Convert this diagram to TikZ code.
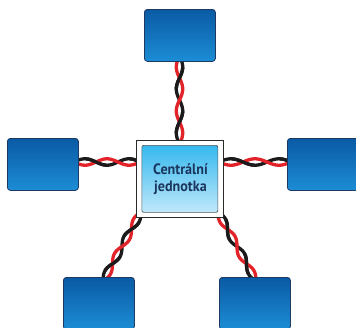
\documentclass[tikz,border=0pt]{standalone}
\usepackage{fontspec}
\newfontfamily\labelfont[FakeStretch=0.94]{PT Sans}
\usetikzlibrary{calc}

\definecolor{unittop}{HTML}{0A5AA4}
\definecolor{unitbot}{HTML}{1C8DD5}
\definecolor{unitedge}{HTML}{1E3A62}
\definecolor{hubtop}{HTML}{36B9EE}
\definecolor{hubbot}{HTML}{C0E8FB}
\definecolor{hubedge}{HTML}{2A2A2A}
\definecolor{hubtext}{HTML}{1B365E}
\definecolor{wirer}{HTML}{E2242A}
\definecolor{wirek}{HTML}{1C1A1A}

% twisted pair parameters (pt)
\def\twamp{3.2}
\def\twhalf{21}

\tikzset{
  unitbox/.style={draw=unitedge, line width=0.8pt, rounded corners=3pt,
    top color=unittop, bottom color=unitbot, shading angle=0,
    minimum width=71pt, minimum height=52pt, inner sep=0pt, anchor=north west},
  hubframe/.style={draw=hubedge, line width=1.3pt, fill=white,
    minimum width=87pt, minimum height=77pt, inner sep=0pt, anchor=north west},
  hubpanel/.style={draw=hubedge!80, line width=0.7pt, rounded corners=2pt,
    top color=hubtop, bottom color=hubbot,
    minimum width=76pt, minimum height=67pt, inner sep=0pt, anchor=north west},
  hublabel/.style={text=hubtext, align=center, inner sep=0pt,
    font=\labelfont\bfseries\fontsize{15}{16.5}\selectfont},
  wireblack/.style={draw=wirek, line width=3.3pt},
  wirered/.style={draw=wirer, line width=3.3pt},
}

% a twisted red/black pair from one named point to another
\newcommand{\twistpair}[2]{%
  \pgfmathanglebetweenpoints{\pgfpointanchor{#1}{center}}{\pgfpointanchor{#2}{center}}%
  \edef\twang{\pgfmathresult}%
  \pgfpointdiff{\pgfpointanchor{#1}{center}}{\pgfpointanchor{#2}{center}}%
  \pgfgetlastxy{\twdx}{\twdy}%
  \pgfmathsetmacro{\twlen}{veclen(\twdx,\twdy)}%
  \pgfmathtruncatemacro{\twn}{max(1,round(\twlen/\twhalf))}%
  \pgfmathsetmacro{\twh}{\twlen/\twn}%
  \begin{scope}[shift={(#1)}, rotate=\twang, x=1pt, y=1pt]
    \draw[wireblack] plot[domain=0:\twlen, samples=80, smooth]
      (\x, {\twamp*sin(180*\x/\twh)});
    \draw[wirered] plot[domain=0:\twlen, samples=80, smooth]
      (\x, {-\twamp*sin(180*\x/\twh)});
    \foreach \k in {1,3,...,\twn} {
      \pgfmathsetmacro{\ka}{(\k-0.5)*\twh}
      \pgfmathsetmacro{\kb}{min((\k+0.5)*\twh,\twlen)}
      \draw[wireblack] plot[domain=\ka:\kb, samples=24, smooth]
        (\x, {\twamp*sin(180*\x/\twh)});
    }
  \end{scope}
}

\begin{document}
\begin{tikzpicture}[x=1pt, y=-1pt]
  \useasboundingbox (0,0) rectangle (356,327);

  % cable end points
  \coordinate (ta) at (179.5,56);
  \coordinate (tb) at (179.5,144);
  \coordinate (la) at (74,162);
  \coordinate (lb) at (140,162);
  \coordinate (ra) at (219,162);
  \coordinate (rb) at (291,162);
  \coordinate (bla) at (141,212);
  \coordinate (blb) at (103,281);
  \coordinate (bra) at (218,212);
  \coordinate (brb) at (256,281);

  % cables
  \twistpair{ta}{tb}
  \twistpair{la}{lb}
  \twistpair{ra}{rb}
  \twistpair{bla}{blb}
  \twistpair{bra}{brb}

  % peripheral units
  \node[unitbox] (top)    at (144,9)   {};
  \node[unitbox] (left)   at (7,138)   {};
  \node[unitbox] (right)  at (287,138) {};
  \node[unitbox] (bleft)  at (63,277)  {};
  \node[unitbox] (bright) at (219,277) {};

  % central unit
  \node[hubframe] (hub) at (136,140) {};
  \node[hubpanel] (panel) at (141.5,145) {};
  \node[hublabel] (label) at (180.5,179) {Centrální\\jednotka};
\end{tikzpicture}
\end{document}
